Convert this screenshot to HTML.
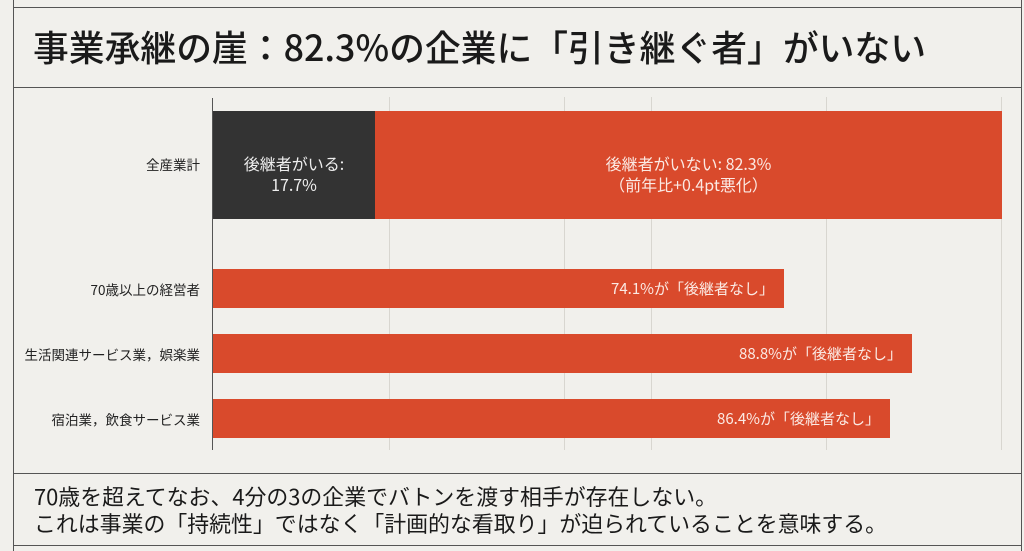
<!DOCTYPE html><html><head><meta charset="utf-8"><style>
body{margin:0;width:1024px;height:551px;background:#f1f0ec;position:relative;overflow:hidden;font-family:"Noto Sans CJK JP",sans-serif;color:#222}
.a{position:absolute}
.t{left:33px;top:21px;font-size:35.8px;font-weight:500;color:#1a1a1a;white-space:nowrap;line-height:50px}
.lbl{font-size:13.5px;text-align:right;width:197px;left:3px;color:#222}
.bar{background:#d94a2c;color:#fbe9e3;font-size:15px;text-align:right;box-sizing:border-box}
.g{top:97px;height:353px;width:1px;background:#d8d6d0}
.f{font-size:21.9px;left:34px;color:#1a1a1a;white-space:nowrap;line-height:27px}
</style></head><body>
<div class="a" style="left:13px;top:0;width:1px;height:551px;background:#555"></div>
<div class="a" style="left:1021px;top:0;width:1px;height:551px;background:#555"></div>
<div class="a" style="left:13px;top:7px;width:1009px;height:1px;background:#555"></div>
<div class="a" style="left:13px;top:87px;width:1009px;height:1px;background:#555"></div>
<div class="a" style="left:13px;top:473px;width:1009px;height:1px;background:#555"></div>
<div class="a" style="left:13px;top:545px;width:1009px;height:1px;background:#555"></div>
<div class="a t">事業承継の崖：82.3%の企業に「引き継ぐ者」がいない</div>
<div class="a g" style="left:389px"></div>
<div class="a g" style="left:564px"></div>
<div class="a g" style="left:651px"></div>
<div class="a g" style="left:826px"></div>
<div class="a g" style="left:1001px"></div>
<div class="a" style="left:212px;top:98px;width:1px;height:352px;background:#555"></div>
<div class="a" style="left:213px;top:111px;width:162px;height:108px;background:#333;color:#eee;font-size:16px;text-align:center;line-height:21px;padding-top:42px;box-sizing:border-box">後継者がいる:<br>17.7%</div>
<div class="a" style="left:375px;top:111px;width:627px;height:108px;background:#d94a2c;color:#fbe9e3;font-size:16px;text-align:center;line-height:21px;padding-top:42px;box-sizing:border-box">後継者がいない: 82.3%<br>（前年比+0.4pt悪化）</div>
<div class="a lbl" style="top:154px">全産業計</div>
<div class="a lbl" style="top:279px">70歳以上の経営者</div>
<div class="a lbl" style="top:344px">生活関連サービス業，娯楽業</div>
<div class="a lbl" style="top:409px">宿泊業，飲食サービス業</div>
<div class="a bar" style="left:213px;top:269px;width:571px;height:39px;line-height:39px;padding-right:10px">74.1%が「後継者なし」</div>
<div class="a bar" style="left:213px;top:334px;width:699px;height:39px;line-height:39px;padding-right:10px">88.8%が「後継者なし」</div>
<div class="a bar" style="left:213px;top:399px;width:677px;height:39px;line-height:39px;padding-right:10px">86.4%が「後継者なし」</div>
<div class="a f" style="top:483px">70歳を超えてなお、4分の3の企業でバトンを渡す相手が存在しない。</div>
<div class="a f" style="top:510px">これは事業の「持続性」ではなく「計画的な看取り」が迫られていることを意味する。</div>
</body></html>
